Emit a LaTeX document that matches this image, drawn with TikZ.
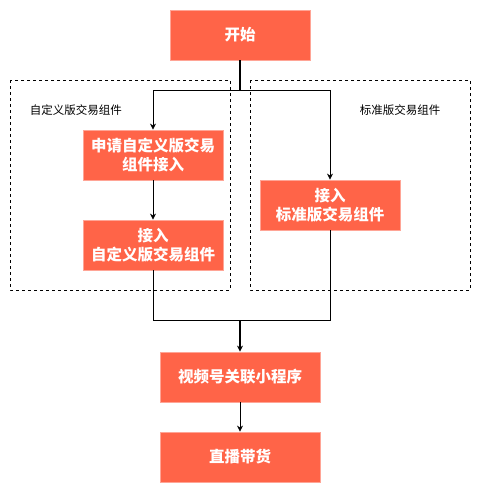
\documentclass[tikz,border=0pt]{standalone}
\usepackage{fontspec}
\newfontfamily\cjk{Noto Sans CJK SC}
\usetikzlibrary{arrows.meta}
\definecolor{boxfill}{HTML}{FF6448}
\definecolor{boxline}{HTML}{FFA596}
\begin{document}
\begin{tikzpicture}[x=1pt,y=-1pt,
	step box/.style={draw=boxline, fill=boxfill, text=white, line width=0.8pt,
		minimum width=140pt, minimum height=50pt, inner sep=0pt, align=center,
		font=\cjk\fontsize{15.5}{19}\selectfont\bfseries},
	group/.style={draw, dashed, line width=0.6pt},
	grouplabel/.style={font=\cjk\fontsize{11.5}{13}\selectfont},
	flow/.style={-{Stealth[length=6pt,width=6pt]}, line width=0.8pt}]
\useasboundingbox (0,0) rectangle (481,493);
\def\leftgroup{(10,80) rectangle (230,290)}
\def\rightgroup{(250,80) rectangle (470,290)}

\draw[group] \leftgroup;
\draw[group] \rightgroup;
\node[grouplabel] (customlabel) at (76,110) {自定义版交易组件};
\node[grouplabel] (stdlabel) at (400,110) {标准版交易组件};

\node[step box] (start) at (240,35) {开始};
\node[step box] (apply) at (153,155) {申请自定义版交易\\组件接入};
\node[step box] (custom) at (153,245) {接入\\自定义版交易组件};
\node[step box] (std) at (330,205) {接入\\标准版交易组件};
\node[step box, minimum width=160pt] (video) at (240,377) {视频号关联小程序};
\node[step box, minimum width=160pt] (live) at (240,457) {直播带货};

\coordinate (split) at (240,90);
\coordinate (merge) at (240,320);
\draw[line width=1.5pt] (start) -- (split);
\draw[flow] (split) -| (apply);
\draw[flow] (split) -| (std);
\draw[flow] (apply) -- (custom);
\draw[line width=0.8pt] (custom) |- (merge);
\draw[line width=0.8pt] (std) |- (merge);
\draw[flow, line width=1.5pt] (merge) -- (video);
\draw[flow] (video) -- (live);
\end{tikzpicture}
\end{document}
